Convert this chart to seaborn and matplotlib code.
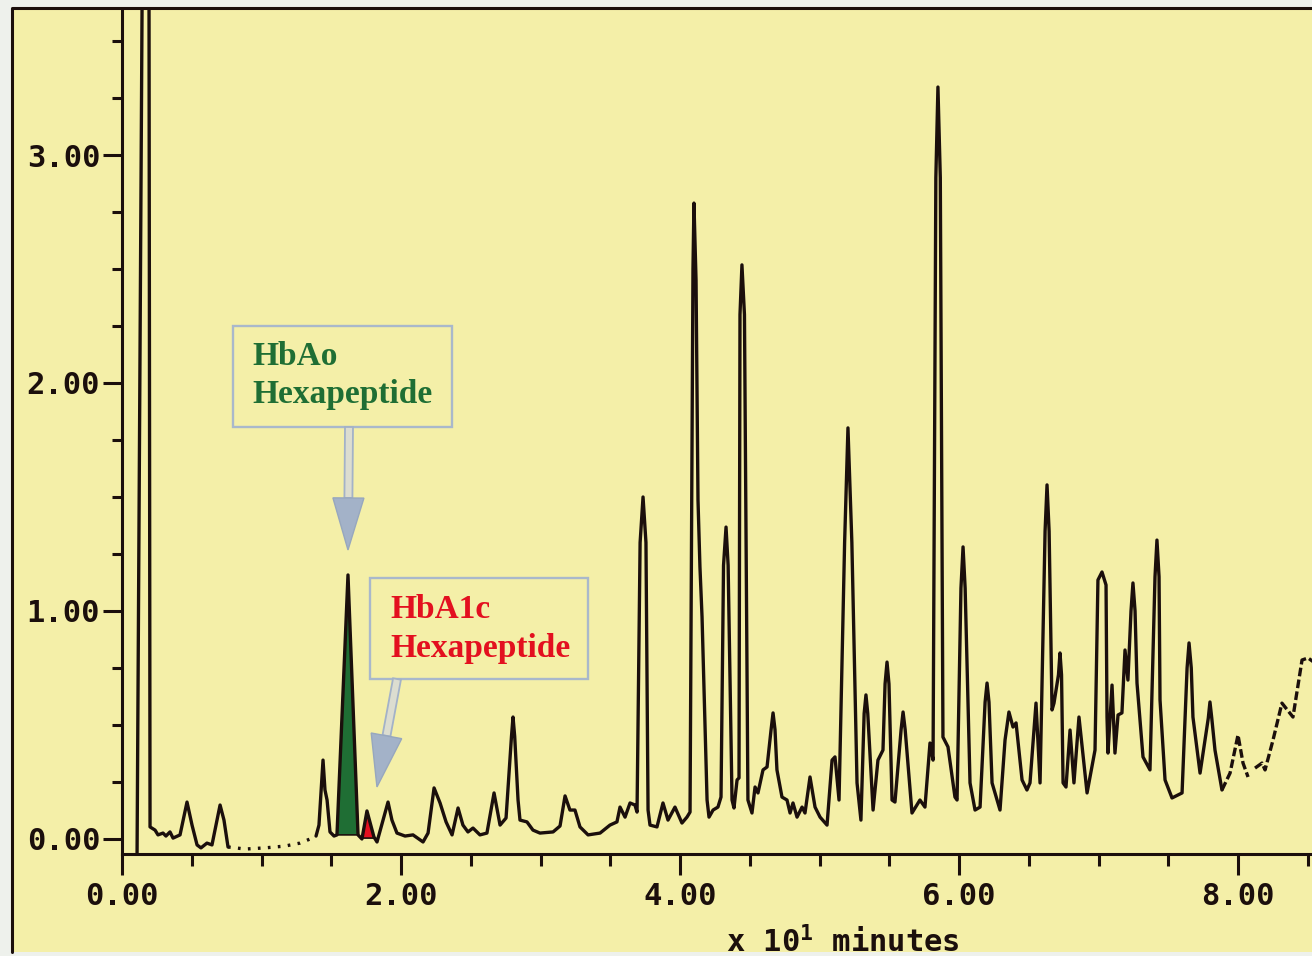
import numpy as np
import pandas as pd
import matplotlib
matplotlib.use("Agg")
import matplotlib.pyplot as plt
import matplotlib.patches as mpatches
import matplotlib.lines as mlines
import matplotlib.transforms as mtransforms
from matplotlib.ticker import MultipleLocator, FormatStrFormatter
import seaborn as sns

# ---------------- chromatogram trace (time in units of 10 min) ----------------
# solvent front and early peaks
t_early = [0.108, 0.152, 0.192, 0.201, 0.237, 0.258, 0.294, 0.315, 0.344, 0.366,
           0.416, 0.466, 0.502, 0.538, 0.566, 0.609, 0.645, 0.703, 0.731, 0.760]
a_early = [-0.06, 4.5, 4.5, 0.053, 0.039, 0.018, 0.026, 0.013, 0.031, 0.004,
           0.018, 0.162, 0.061, -0.026, -0.039, -0.018, -0.026, 0.149, 0.083, -0.035]

# baseline drift recorded as a dotted pen stroke
t_drift = [0.760, 0.882, 1.025, 1.168, 1.276, 1.348, 1.391]
a_drift = [-0.035, -0.044, -0.039, -0.031, -0.018, 0.0, 0.013]

# main separation window
t_main = [1.391, 1.412, 1.441, 1.455, 1.470, 1.491, 1.520, 1.541, 1.620, 1.692,
          1.720, 1.756, 1.806, 1.828, 1.907, 1.935, 1.971, 2.029, 2.086, 2.158,
          2.194, 2.237, 2.280, 2.323, 2.366, 2.409, 2.444, 2.480, 2.516, 2.566,
          2.616, 2.667, 2.710, 2.753, 2.792, 2.803, 2.815, 2.839, 2.853, 2.903, 2.946, 2.996,
          3.090, 3.140, 3.176, 3.211, 3.247, 3.283, 3.341, 3.427, 3.498, 3.548,
          3.570, 3.606, 3.642, 3.677, 3.692, 3.714, 3.735, 3.756, 3.771, 3.785, 3.835, 3.878,
          3.914, 3.964, 4.014, 4.050, 4.072, 4.093, 4.100, 4.115, 4.129, 4.143, 4.158, 4.194,
          4.208, 4.237, 4.272, 4.294, 4.312, 4.330, 4.345, 4.373, 4.387, 4.409, 4.423, 4.430,
          4.444, 4.462,
          4.487, 4.516, 4.538, 4.559, 4.595, 4.624, 4.653, 4.667, 4.681, 4.695, 4.731, 4.767,
          4.789, 4.810, 4.839, 4.875, 4.896, 4.932, 4.968, 5.004, 5.054, 5.090,
          5.111, 5.140, 5.180, 5.204, 5.232, 5.269, 5.297, 5.320, 5.333, 5.346, 5.384, 5.419,
          5.455, 5.470, 5.484, 5.498,
          5.520, 5.541, 5.585, 5.599, 5.614, 5.663, 5.720, 5.756, 5.792, 5.814, 5.834, 5.849,
          5.866, 5.885,
          5.921, 5.971, 5.986, 6.014, 6.029, 6.044, 6.079, 6.115, 6.151, 6.187, 6.201, 6.215,
          6.237, 6.294,
          6.330, 6.358, 6.387, 6.409, 6.452, 6.487, 6.509, 6.552, 6.581, 6.617, 6.631, 6.646,
          6.667, 6.681, 6.713, 6.724, 6.735, 6.746, 6.767, 6.796, 6.824, 6.860, 6.918, 6.975,
          6.996, 7.025, 7.054, 7.061, 7.068, 7.097, 7.118, 7.140, 7.168, 7.190,
          7.211, 7.233, 7.247, 7.262, 7.276, 7.319, 7.369, 7.405, 7.419, 7.434, 7.441, 7.477,
          7.527, 7.599,
          7.635, 7.649, 7.665, 7.677, 7.728, 7.787, 7.799, 7.812, 7.835, 7.885]
a_main = [0.013, 0.061, 0.346, 0.215, 0.171, 0.031, 0.013, 0.018, 1.158, 0.018,
          0.000, 0.123, 0.009, -0.013, 0.162, 0.083, 0.026, 0.013, 0.018, -0.013,
          0.026, 0.224, 0.158, 0.075, 0.018, 0.136, 0.061, 0.031, 0.048, 0.018,
          0.026, 0.202, 0.061, 0.092, 0.45, 0.535, 0.45, 0.171, 0.083, 0.075, 0.039, 0.026,
          0.031, 0.057, 0.189, 0.127, 0.127, 0.053, 0.018, 0.026, 0.061, 0.075,
          0.140, 0.096, 0.158, 0.149, 0.118, 1.30, 1.500, 1.30, 0.127, 0.061, 0.053, 0.158,
          0.083, 0.140, 0.070, 0.096, 0.118, 2.50, 2.789, 2.45, 1.487, 1.193, 0.974, 0.171,
          0.096, 0.127, 0.140, 0.184, 1.20, 1.368, 1.20, 0.171, 0.136, 0.259, 0.268, 2.30,
          2.518, 2.30,
          0.171, 0.114, 0.228, 0.202, 0.303, 0.316, 0.48, 0.553, 0.48, 0.303, 0.184, 0.171,
          0.114, 0.158, 0.096, 0.140, 0.114, 0.272, 0.140, 0.096, 0.061, 0.346,
          0.360, 0.171, 1.30, 1.803, 1.30, 0.246, 0.083, 0.55, 0.632, 0.55, 0.127, 0.346,
          0.390, 0.68, 0.776, 0.68,
          0.171, 0.162, 0.48, 0.557, 0.48, 0.114, 0.171, 0.140, 0.421, 0.346, 2.90, 3.298,
          2.90, 0.447,
          0.404, 0.184, 0.171, 1.10, 1.281, 1.10, 0.246, 0.127, 0.140, 0.60, 0.684, 0.60,
          0.246, 0.127,
          0.434, 0.557, 0.491, 0.509, 0.259, 0.215, 0.246, 0.596, 0.246, 1.35, 1.553, 1.35,
          0.566, 0.596, 0.72, 0.816, 0.72, 0.246, 0.228, 0.478, 0.246, 0.535, 0.202, 0.390,
          1.136, 1.171, 1.114, 0.535, 0.377, 0.675, 0.377, 0.544, 0.553, 0.829,
          0.697, 1.00, 1.123, 1.00, 0.684, 0.360, 0.303, 1.15, 1.311, 1.15, 0.610, 0.259,
          0.180, 0.202,
          0.75, 0.860, 0.75, 0.535, 0.289, 0.53, 0.601, 0.53, 0.390, 0.215]

# late gradient, drawn dashed by the recorder
t_late = [7.885, 7.943, 8.000, 8.036, 8.072]
a_late = [0.215, 0.289, 0.456, 0.333, 0.272]
t_end = [8.122, 8.172, 8.194, 8.251, 8.315, 8.394, 8.459, 8.502, 8.552]
a_end = [0.311, 0.333, 0.303, 0.434, 0.596, 0.535, 0.785, 0.794, 0.772]

# integrated peaks: (start, end, baseline)
hbao_window = (1.541, 1.692, 0.018)
hba1c_window = (1.720, 1.806, 0.004)

x_major = [0, 2, 4, 6, 8]
y_major = [0, 1, 2, 3]
x_label = r"x 10$^{1}$ minutes"
hbao_text = ["HbAo", "Hexapeptide"]
hba1c_text = ["HbA1c", "Hexapeptide"]

assert len(t_main) == len(a_main)
assert len(t_early) == len(a_early)

# ---------------- styling ----------------
W, H = 1312, 956
paper = "#F4EFA8"
ink = "#1B0F0C"
green = "#1F6E34"
red = "#E3101F"
box_edge = "#A9B8CB"
arrow_fill = "#A3B2C8"

sns.set_style("ticks")
plt.rcParams["font.family"] = ["DejaVu Sans Mono"]
plt.rcParams["font.weight"] = "bold"
plt.rcParams["mathtext.fontset"] = "custom"
plt.rcParams["mathtext.rm"] = "DejaVu Sans Mono:bold"
plt.rcParams["mathtext.it"] = "DejaVu Sans Mono:bold"
plt.rcParams["mathtext.bf"] = "DejaVu Sans Mono:bold"

pieces = [("early", "solid", t_early, a_early),
          ("drift", "dotted", t_drift, a_drift),
          ("main", "solid", t_main, a_main),
          ("late", "dashed", t_late, a_late),
          ("end", "dashed", t_end, a_end)]
trace = pd.concat([
    pd.DataFrame({"time": t, "absorbance": a, "piece": name, "stroke": stroke})
    for name, stroke, t, a in pieces], ignore_index=True)

fig = plt.figure(figsize=(W / 100, H / 100), dpi=100, facecolor="#EEF1EC")
ident = mtransforms.IdentityTransform()

# recorder paper with a dark border on the left and top
fig.add_artist(mpatches.Rectangle((12, H - 952), W, 944, transform=ident,
                                  facecolor=paper, edgecolor="none", zorder=-5))
fig.add_artist(mlines.Line2D([12, 12, W + 5], [H - 952, H - 8, H - 8],
                             transform=ident, color=ink, lw=2.2, zorder=-4))

ax = fig.add_axes([122 / W, (H - 854) / H, (W - 122) / W, 845 / H])
ax.set_facecolor("none")

sns.lineplot(data=trace, x="time", y="absorbance", units="piece",
             style="stroke", dashes={"solid": "", "dotted": (0.8, 2.2),
                                     "dashed": (2.6, 1.0)},
             estimator=None, sort=False, color=ink, linewidth=2.4,
             legend=False, ax=ax, zorder=3)

# shaded integrated peaks, taken from the trace itself
tm = np.array(t_main)
am = np.array(a_main)
for (t0, t1, base), col in [(hbao_window, green), (hba1c_window, red)]:
    sel = (tm >= t0) & (tm <= t1)
    xs = np.concatenate([[t0], tm[sel], [t1]])
    ys = np.concatenate([[base], am[sel], [base]])
    ax.fill(xs, ys, facecolor=col, edgecolor=ink, lw=1.2, zorder=2)

ax.set_xlim(0, (W - 122) / 139.5)
ax.set_ylim(-(854 - 839) / 228, (839 - 9) / 228)
ax.set_xlabel("")
ax.set_ylabel("")

for side in ["top", "right"]:
    ax.spines[side].set_visible(False)
for side in ["left", "bottom"]:
    ax.spines[side].set_color(ink)
    ax.spines[side].set_linewidth(2.2)

ax.set_xticks(x_major)
ax.set_yticks(y_major)
ax.xaxis.set_minor_locator(MultipleLocator(0.5))
ax.yaxis.set_minor_locator(MultipleLocator(0.25))
ax.xaxis.set_major_formatter(FormatStrFormatter("%.2f"))
ax.yaxis.set_major_formatter(FormatStrFormatter("%.2f"))
ax.tick_params(axis="both", which="both", direction="out", color=ink,
               width=2.2, labelcolor=ink, labelsize=22)
ax.tick_params(axis="y", which="major", length=13.7, pad=2)
ax.tick_params(axis="y", which="minor", length=7.2)
ax.tick_params(axis="x", which="major", length=15, pad=5.5)
ax.tick_params(axis="x", which="minor", length=8.6)

fig.text(843 / W, 1 - 942 / H, x_label, ha="center", va="center",
         fontsize=22, fontweight="bold", color=ink)


# ---------------- callouts ----------------
def px(x, y):
    """top-left pixel position -> display coordinates"""
    return np.array([x, H - y], dtype=float)


def callout_box(x0, y0, x1, y1, lines, color, text_x, baselines):
    fig.add_artist(mpatches.Rectangle(px(x0, y1), x1 - x0, y1 - y0,
                                      transform=ident, facecolor="none",
                                      edgecolor=box_edge, lw=1.7, zorder=4))
    for line, yb in zip(lines, baselines):
        fig.text(text_x / W, 1 - yb / H, line, ha="left", va="baseline",
                 fontsize=24, fontweight="bold", color=color,
                 family=["Liberation Serif", "DejaVu Serif"], zorder=5)


def hollow_arrow(start, tip, head_len=52, head_w=31, shaft_w=8):
    d = tip - start
    u = d / np.hypot(*d)
    n = np.array([-u[1], u[0]])
    base = tip - u * head_len
    shaft = [start + n * shaft_w / 2, base + n * shaft_w / 2,
             base - n * shaft_w / 2, start - n * shaft_w / 2]
    head = [base + n * head_w / 2, tip, base - n * head_w / 2]
    fig.add_artist(mpatches.Polygon(shaft, closed=True, transform=ident,
                                    facecolor="#DCDDD0", edgecolor=arrow_fill,
                                    lw=1.3, zorder=4))
    fig.add_artist(mpatches.Polygon(head, closed=True, transform=ident,
                                    facecolor=arrow_fill, edgecolor="#97A7BE",
                                    lw=1.0, zorder=4))


callout_box(233, 326, 452, 427, hbao_text, green, 252, [365, 403])
callout_box(370, 578, 588, 679, hba1c_text, red, 390, [618, 657])

# arrow tips point at the apex of each integrated peak
for (t0, t1, base), start, offset in [
        (hbao_window, px(349, 427), np.array([0.0, 25.0])),
        (hba1c_window, px(397, 679), np.array([10.0, 24.0]))]:
    sel = (tm >= t0) & (tm <= t1)
    k = np.argmax(am[sel])
    apex = ax.transData.transform((tm[sel][k], am[sel][k]))
    hollow_arrow(start, apex + offset)

fig.savefig("out.png", dpi=100, facecolor=fig.get_facecolor())
